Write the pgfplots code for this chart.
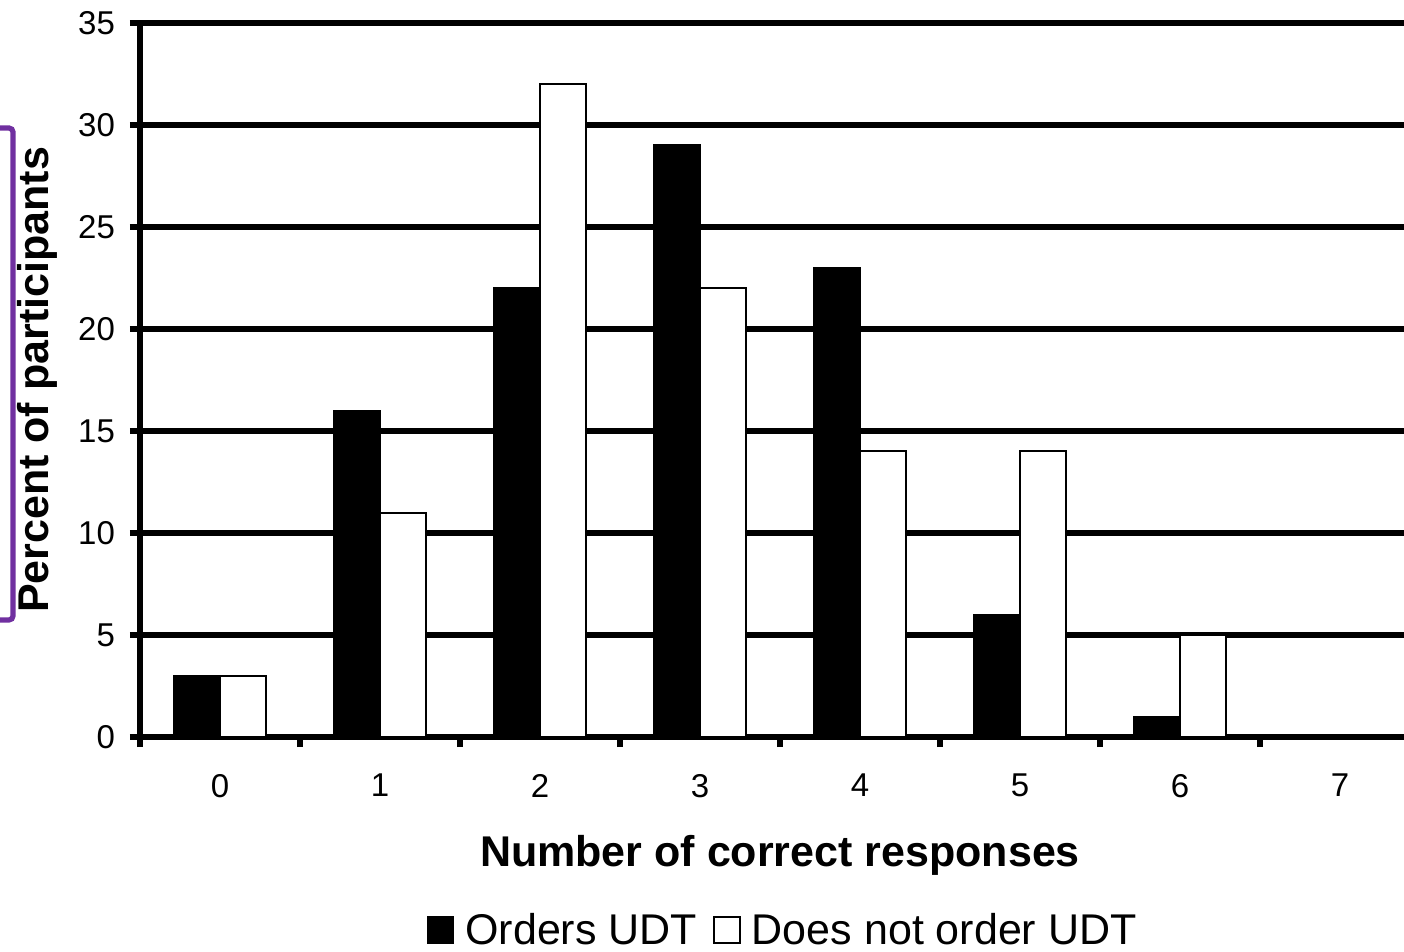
\documentclass[border=0pt]{standalone}
\usepackage{pgfplots}
\pgfplotsset{compat=1.18}
\usepackage{fontspec}
\setmainfont{Liberation Sans}
\definecolor{brk}{RGB}{112,48,160}
\begin{document}
\begin{tikzpicture}
\begin{axis}[
  name=ax, at={(0,0)}, anchor=south west,
  scale only axis, width=632pt, height=357pt,
  xmin=-0.5, xmax=7.4, ymin=0, ymax=35,
  ybar=0pt, bar width=23pt,
  axis x line*=bottom, axis y line*=left,
  axis line style={line width=2.6pt, -},
  ytick={0,5,...,35},
  ymajorgrids, grid style={black, line width=2.6pt},
  xtick={0,...,7},
  minor xtick={-0.5,0.5,...,6.5},
  tick align=outside,
  major tick length=5pt, minor tick length=5pt,
  major x tick style={draw=none},
  minor x tick style={black, line width=2.6pt},
  major y tick style={black, line width=2.6pt},
  ticklabel style={font=\fontsize{16.5}{18}\selectfont},
  /pgf/number format/assume math mode=true,
  xticklabel style={yshift=-10pt},
  yticklabel style={xshift=-4pt},
  label style={font=\fontsize{21.5}{24}\selectfont\bfseries},
  xlabel={Number of correct responses},
  ylabel={Percent of participants},
  xlabel style={at={(rel axis cs:0.5,0)}, anchor=center, yshift=-59pt, xshift=4pt},
  ylabel style={at={([xshift=-51.5pt]rel axis cs:0,0.5)}, anchor=center},
  legend style={at={(rel axis cs:0.51,0)}, anchor=center, yshift=-96.5pt,
    draw=none, fill=none, inner sep=0pt, legend columns=2,
    nodes={inner xsep=3pt, inner ysep=0pt},
    font=\fontsize{21.5}{24}\selectfont,
    /tikz/every even column/.append style={column sep=5pt}},
  legend cell align=left,
]
\addplot[fill=black, draw=black, line width=1pt,
  legend image code/.code={\draw[fill=black,draw=black,line width=0.8pt] (0pt,-6.5pt) rectangle (13pt,6.5pt); \path[draw=none,fill=none] (0pt,0pt) -- (16pt,0pt);}]
  coordinates {(0,3) (1,16) (2,22) (3,29) (4,23) (5,6) (6,1)};
\addplot[fill=white, draw=black, line width=1pt,
  legend image code/.code={\draw[fill=white,draw=black,line width=0.8pt] (0pt,-6.5pt) rectangle (13pt,6.5pt); \path[draw=none,fill=none] (0pt,0pt) -- (16pt,0pt);}]
  coordinates {(0,3) (1,11) (2,32) (3,22) (4,14) (5,14) (6,5)};
\legend{Orders UDT, Does not order UDT}
\end{axis}
\draw[brk, line width=2.6pt, rounded corners=2pt] ([shift={(-74pt,304.5pt)}]ax.south west) -- ++(10.5pt,0) -- ++(0,-246pt) -- ++(-10.5pt,0);
\pgfresetboundingbox
\useasboundingbox ([shift={(-70pt,-107pt)}]ax.south west) rectangle ([shift={(0pt,11.5pt)}]ax.north east);
\end{tikzpicture}
\end{document}
